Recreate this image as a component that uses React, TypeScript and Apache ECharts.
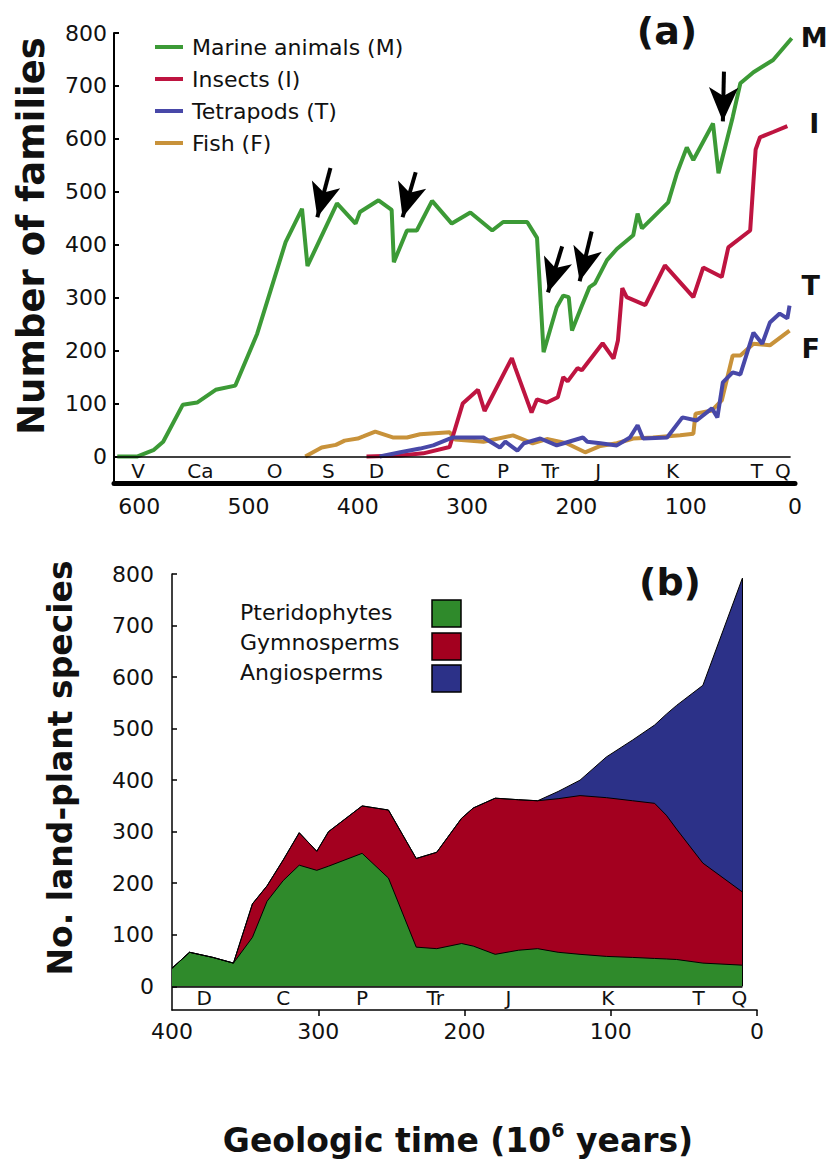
import React, { useEffect, useRef } from 'react';
import * as echarts from 'echarts';

const FONT = '"DejaVu Sans", Verdana, sans-serif';
const INK = '#111';

// ---------- Panel (a): number of families ----------
const animalNames = ['Marine animals (M)', 'Insects (I)', 'Tetrapods (T)', 'Fish (F)'];
const animalColors = ['#3c9a36', '#be1440', '#4848a8', '#c8923a'];
const animalEndLabels = ['M', 'I', 'T', 'F'];

const marine: number[][] = [
  [620, 0], [602, 0], [587, 12], [578, 28], [560, 98], [547, 102], [530, 126], [512, 134],
  [492, 232], [466, 405], [451, 468], [446, 360], [419, 478], [402, 440], [398, 462],
  [381, 484], [369, 466], [367, 367], [355, 427], [346, 427], [332, 483], [314, 440],
  [297, 461], [277, 427], [267, 443], [245, 443], [236, 413], [230, 197], [218, 282],
  [212, 304], [207, 301], [204, 238], [195, 285], [188, 320], [183, 327], [172, 371],
  [163, 392], [148, 418], [144, 459], [140, 431], [116, 480], [108, 535], [99, 584],
  [93, 560], [75, 629], [70, 535], [57, 641], [50, 705], [38, 726], [20, 749], [3, 790],
];
const insects: number[][] = [
  [392, 0], [361, 2], [340, 6], [316, 18], [304, 100], [290, 126], [284, 86], [259, 186],
  [256, 168], [241, 83], [236, 108], [227, 102], [217, 112], [212, 150], [208, 142],
  [199, 167], [195, 163], [176, 214], [166, 185], [162, 219], [158, 318], [154, 301],
  [137, 286], [119, 361], [93, 301], [84, 357], [67, 339], [61, 395], [41, 427],
  [38, 520], [36, 580], [32, 603], [20, 613], [7, 624],
];
const tetrapods: number[][] = [
  [380, 0], [361, 8], [343, 15], [331, 21], [313, 36], [285, 36], [270, 17], [265, 28],
  [254, 11], [248, 25], [233, 34], [218, 21], [210, 26], [194, 36], [190, 28], [178, 25],
  [163, 21], [151, 36], [144, 59], [139, 34], [117, 36], [103, 74], [90, 68], [76, 91],
  [71, 74], [66, 140], [57, 159], [50, 155], [38, 234], [30, 213], [23, 253], [14, 270],
  [7, 261], [5, 285],
];
const fish: number[][] = [
  [448, 0], [433, 17], [420, 22], [412, 30], [400, 34], [395, 38], [384, 47], [368, 36],
  [355, 36], [343, 42], [316, 46], [311, 32], [285, 28], [258, 40], [240, 25], [227, 33],
  [209, 25], [192, 8], [178, 20], [163, 25], [148, 34], [130, 36], [105, 40], [93, 43],
  [91, 81], [76, 87], [67, 106], [57, 191], [50, 191], [38, 213], [23, 210], [5, 238],
];
// extinction arrows: [tailAge, tailValue, headAge, headValue]
const extinctionArrows: number[][] = [
  [425, 545, 437, 452],
  [347, 537, 359, 452],
  [213, 397, 226, 310],
  [186, 425, 197, 331],
  [65, 727, 66, 633],
];
const topPeriods = ['V', 'Ca', 'O', 'S', 'D', 'C', 'P', 'Tr', 'J', 'K', 'T', 'Q'];
const topPeriodAges = [601, 544, 476, 427, 383, 322, 267, 224, 180, 112, 35, 11];
const topXTicks = [0, 100, 200, 300, 400, 500, 600];
const topYTicks = [0, 100, 200, 300, 400, 500, 600, 700, 800];

// ---------- Panel (b): land-plant species ----------
const plantNames = ['Pteridophytes', 'Gymnosperms', 'Angiosperms'];
const plantColors = ['#2f8a2b', '#a3001f', '#2c3188'];
const plantAges = [400, 388, 372, 358, 345, 335, 324, 313, 301, 293, 270, 252, 233, 219,
  202, 194, 179, 163, 150, 136, 121, 103, 85, 70, 62, 55, 37, 10];
const pteridophytes = [35, 66, 56, 45, 95, 165, 205, 235, 225, 233, 258, 210, 76, 73,
  83, 78, 62, 70, 73, 66, 62, 58, 56, 54, 53, 52, 45, 41];
const gymnosperms = [0, 0, 0, 0, 65, 30, 40, 63, 37, 67, 92, 132, 172, 187,
  243, 268, 303, 292, 287, 298, 308, 308, 304, 301, 279, 253, 194, 142];
const angiosperms = [0, 0, 0, 0, 0, 0, 0, 0, 0, 0, 0, 0, 0, 0,
  0, 0, 0, 0, 0, 14, 30, 79, 118, 152, 196, 240, 345, 609];
const botPeriods = ['D', 'C', 'P', 'Tr', 'J', 'K', 'T', 'Q'];
const botPeriodAges = [378, 324, 270, 220, 170, 102, 40, 12];
const botXTicks = [0, 100, 200, 300, 400];
const botYTicks = [0, 100, 200, 300, 400, 500, 600, 700, 800];

function buildOption() {
  const animalData = [marine, insects, tetrapods, fish];
  const endOffsets = [[9, -1], [22, -3], [12, -20], [12, 18]];
  const drawOrder = [3, 1, 2, 0]; // fish, insects, tetrapods, marine

  const animalSeries = drawOrder.map((i) => {
    const s: any = {
      name: animalNames[i],
      type: 'line',
      xAxisIndex: 0,
      yAxisIndex: 0,
      data: animalData[i],
      symbol: 'none',
      color: animalColors[i],
      lineStyle: { width: 4, color: animalColors[i] },
      endLabel: {
        show: true,
        formatter: animalEndLabels[i],
        fontSize: 27,
        fontWeight: 'bold',
        fontFamily: FONT,
        color: INK,
        distance: 0,
        align: 'left',
        verticalAlign: 'middle',
        offset: endOffsets[i],
      },
      silent: true,
    };
    if (i === 0) {
      s.markLine = {
        silent: true,
        symbol: ['none', 'arrow'],
        symbolSize: [22, 34],
        label: { show: false },
        lineStyle: { color: '#000', width: 4, type: 'solid' },
        data: extinctionArrows.map((a) => [{ coord: [a[0], a[1]] }, { coord: [a[2], a[3]] }]),
      };
    }
    if (i === 3) {
      s.markLine = {
        silent: true,
        symbol: ['none', 'none'],
        label: { show: false },
        lineStyle: { color: '#000', width: 1.5, type: 'solid' },
        data: [[{ coord: [623, 0] }, { coord: [4, 0] }]],
      };
    }
    return s;
  });

  // cumulative boundaries of the stacked layers (computed from the layer counts)
  const layers = [pteridophytes, gymnosperms, angiosperms];
  const cumulative = layers.map((_, i) =>
    plantAges.map((_a, k) => layers.slice(0, i + 1).reduce((sum, l) => sum + l[k], 0)));
  const lastIdx = plantAges.length - 1;
  const totalLast = cumulative[2][lastIdx];

  // draw the top boundary first so that lower layers cover it
  const plantSeries = [2, 1, 0].map((i) => {
    const s: any = {
      name: plantNames[i],
      type: 'line',
      xAxisIndex: 1,
      yAxisIndex: 1,
      symbol: 'none',
      data: plantAges.map((a, k) => [a, cumulative[i][k]]),
      lineStyle: { color: '#000', width: 1 },
      areaStyle: { color: plantColors[i], opacity: 1 },
      color: plantColors[i],
      silent: true,
    };
    if (i === 0) {
      s.markLine = {
        silent: true,
        symbol: ['none', 'none'],
        label: { show: false },
        lineStyle: { color: '#000', width: 1.5, type: 'solid' },
        data: [[{ coord: [400, 0] }, { coord: [plantAges[lastIdx], 0] }]],
      };
    }
    if (i === 2) {
      s.markLine = {
        silent: true,
        symbol: ['none', 'none'],
        label: { show: false },
        lineStyle: { color: '#000', width: 1, type: 'solid' },
        data: [[{ coord: [plantAges[lastIdx], 0] }, { coord: [plantAges[lastIdx], totalLast] }]],
      };
    }
    return s;
  });

  const periodSeries = (names: string[], ages: number[], y: number, axis: number) => ({
    type: 'scatter',
    xAxisIndex: axis,
    yAxisIndex: axis,
    symbol: 'circle',
    symbolSize: 1,
    silent: true,
    itemStyle: { color: 'rgba(0,0,0,0)' },
    label: {
      show: true,
      position: 'inside',
      formatter: '{b}',
      fontSize: 20,
      fontFamily: FONT,
      color: INK,
      textBorderWidth: 0,
      opacity: 1,
    },
    data: names.map((n, k) => ({ name: n, value: [ages[k], y] })),
    z: 5,
  });

  const axisText = { fontSize: 22, fontFamily: FONT, color: INK };

  const graphic: any[] = [
    {
      type: 'text', x: 31, y: 236, rotation: Math.PI / 2,
      style: { text: 'Number of families', fontSize: 37, fontWeight: 'bold', fontFamily: FONT, fill: INK, align: 'center', verticalAlign: 'middle' },
    },
    {
      type: 'text', x: 667, y: 31,
      style: { text: '(a)', fontSize: 38, fontWeight: 'bold', fontFamily: FONT, fill: INK, align: 'center', verticalAlign: 'middle' },
    },
    {
      type: 'text', x: 670, y: 582,
      style: { text: '(b)', fontSize: 38, fontWeight: 'bold', fontFamily: FONT, fill: INK, align: 'center', verticalAlign: 'middle' },
    },
    {
      type: 'text', x: 60, y: 768, rotation: Math.PI / 2,
      style: { text: 'No. land-plant species', fontSize: 33, fontWeight: 'bold', fontFamily: FONT, fill: INK, align: 'center', verticalAlign: 'middle' },
    },
    {
      type: 'text', x: 458, y: 1140,
      style: {
        text: '{a|Geologic time (10}{s|6}{a| years)}',
        align: 'center', verticalAlign: 'middle', fill: INK,
        rich: {
          a: { fontSize: 33, fontWeight: 'bold', fontFamily: FONT, fill: INK, lineHeight: 40 },
          s: { fontSize: 19, fontWeight: 'bold', fontFamily: FONT, fill: INK, verticalAlign: 'top', lineHeight: 40 },
        },
      },
    },
  ];
  const legendTextY = [612, 642, 672];
  const legendBoxY = [600, 633, 665];
  plantNames.forEach((n, i) => {
    graphic.push({
      type: 'text', x: 240, y: legendTextY[i],
      style: { text: n, fontSize: 22, fontFamily: FONT, fill: INK, align: 'left', verticalAlign: 'middle' },
    });
    graphic.push({
      type: 'rect', shape: { x: 432, y: legendBoxY[i], width: 29, height: 27 },
      style: { fill: plantColors[i], stroke: '#000', lineWidth: 1.5 },
    });
  });

  return {
    animation: false,
    backgroundColor: '#fff',
    grid: [
      { left: 114, top: 33, width: 681, height: 450 },
      { left: 172, top: 574, width: 585, height: 436 },
    ],
    legend: {
      data: animalNames,
      orient: 'vertical',
      left: 150,
      top: 30,
      icon: 'rect',
      itemWidth: 28,
      itemHeight: 4,
      itemGap: 8,
      selectedMode: false,
      textStyle: { fontSize: 22, fontFamily: FONT, color: INK, lineHeight: 24, padding: [0, 0, 0, 4] },
    },
    xAxis: [
      {
        gridIndex: 0, type: 'value', inverse: true, min: 0, max: 623,
        axisLine: { show: true, onZero: false, lineStyle: { color: '#000', width: 5 } },
        axisTick: { show: false },
        splitLine: { show: false },
        axisLabel: { ...axisText, customValues: topXTicks, margin: 12 },
      },
      {
        gridIndex: 1, type: 'value', inverse: true, min: 0, max: 400,
        axisLine: { show: true, onZero: false, lineStyle: { color: '#000', width: 1.5 } },
        axisTick: { show: true, customValues: [0, 100, 200, 300], length: 6, lineStyle: { color: '#000', width: 1.5 } },
        splitLine: { show: false },
        axisLabel: { ...axisText, customValues: botXTicks, margin: 10 },
      },
    ],
    yAxis: [
      {
        gridIndex: 0, type: 'value', min: -50, max: 800,
        axisLine: { show: true, onZero: false, lineStyle: { color: '#000', width: 2 } },
        axisTick: { show: true, inside: true, length: 5, customValues: topYTicks, lineStyle: { color: '#000', width: 2 } },
        splitLine: { show: false },
        axisLabel: { ...axisText, customValues: topYTicks, margin: 7 },
      },
      {
        gridIndex: 1, type: 'value', min: -46, max: 800,
        axisLine: { show: true, onZero: false, lineStyle: { color: '#000', width: 1.5 } },
        axisTick: { show: true, inside: true, length: 5, customValues: botYTicks, lineStyle: { color: '#000', width: 1.5 } },
        splitLine: { show: false },
        axisLabel: { ...axisText, customValues: botYTicks, margin: 18 },
      },
    ],
    series: [
      ...animalSeries,
      ...plantSeries,
      periodSeries(topPeriods, topPeriodAges, -28, 0),
      periodSeries(botPeriods, botPeriodAges, -23, 1),
    ],
    graphic,
  };
}

export default function App() {
  const ref = useRef<HTMLDivElement>(null);
  useEffect(() => {
    document.body.style.margin = '0';
    const chart = echarts.init(ref.current as HTMLDivElement, null, { renderer: 'svg' });
    chart.setOption(buildOption() as any);
    return () => chart.dispose();
  }, []);
  return <div ref={ref} style={{ width: 833, height: 1173 }} />;
}
